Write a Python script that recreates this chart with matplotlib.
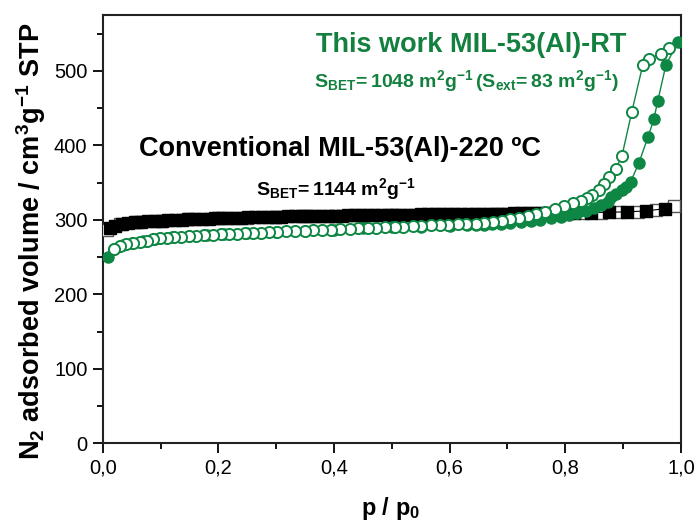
import matplotlib
matplotlib.use('Agg')
import matplotlib.pyplot as plt
from matplotlib import font_manager as fm
from matplotlib.ticker import MultipleLocator, FuncFormatter


def pick_font(names):
    for n in names:
        try:
            fm.findfont(fm.FontProperties(family=n), fallback_to_default=False)
            return n
        except ValueError:
            pass
    return 'DejaVu Sans'


SANS = pick_font(['Liberation Sans', 'Arial', 'DejaVu Sans'])
NARROW = pick_font(['Liberation Sans Narrow', 'Arial Narrow', SANS])

plt.rcParams['font.family'] = [SANS, 'DejaVu Sans']
plt.rcParams['mathtext.fontset'] = 'custom'
plt.rcParams['mathtext.rm'] = SANS
plt.rcParams['mathtext.bf'] = SANS + ':bold'
plt.rcParams['mathtext.sf'] = NARROW + ':bold'
plt.rcParams['mathtext.it'] = SANS + ':italic'

GREEN = '#0f8744'
GREEN_TXT = '#13803f'

# MIL-53(Al)-RT, adsorption branch (filled circles)
rt_ads_p = [0.009, 0.020, 0.035, 0.050, 0.070, 0.090, 0.120, 0.150, 0.180, 0.210,
            0.250, 0.300, 0.350, 0.400, 0.450, 0.500, 0.550, 0.600, 0.630, 0.645,
            0.659, 0.673, 0.688, 0.705, 0.723, 0.740, 0.757, 0.775, 0.792, 0.807,
            0.821, 0.835, 0.850, 0.862, 0.873, 0.879, 0.887, 0.898, 0.905, 0.913,
            0.927, 0.943, 0.953, 0.960, 0.974, 0.995]
rt_ads_v = [250, 261, 266, 268.5, 271, 274.5, 276.5, 278, 279.5, 280.5,
            282, 284, 285.5, 287, 288.5, 290, 291, 292, 292.5, 292.5,
            293, 294, 295, 296, 297, 298.5, 300, 302, 304, 306,
            309, 312, 316, 320, 324, 331, 335, 340, 344, 351,
            376, 411, 435, 460, 508, 539]

# MIL-53(Al)-RT, desorption branch (open circles)
rt_des_p = [0.979, 0.965, 0.945, 0.934, 0.915, 0.898, 0.887, 0.875, 0.867, 0.858,
            0.847, 0.838, 0.827, 0.813, 0.797, 0.782, 0.765, 0.750, 0.735, 0.720,
            0.705, 0.690, 0.675, 0.660, 0.645, 0.629, 0.614, 0.598, 0.583, 0.567,
            0.551, 0.536, 0.520, 0.505, 0.489, 0.473, 0.458, 0.442, 0.427, 0.411,
            0.395, 0.380, 0.364, 0.349, 0.333, 0.317, 0.302, 0.288, 0.274, 0.260,
            0.246, 0.232, 0.218, 0.204, 0.190, 0.176, 0.162, 0.149, 0.136, 0.123,
            0.111, 0.099, 0.087, 0.076, 0.064, 0.052, 0.041, 0.030, 0.019]
rt_des_v = [531, 523, 516, 508, 445, 386, 368, 357, 348, 340,
            333, 329, 325, 322, 318, 314, 311, 308, 305, 303,
            301, 299, 297.5, 296, 295, 294.5, 294, 293.5, 293, 292.5,
            292, 291.5, 291, 290.5, 290, 289.5, 289, 288.5, 288, 287.5,
            287, 286.5, 286, 285.5, 285, 284.5, 284, 283.5, 283, 282.5,
            282, 281.5, 281, 280.5, 280, 279, 278.5, 278, 277, 276.5,
            276, 275, 274, 272, 270.5, 269, 267, 265, 261]

# Conventional MIL-53(Al)-220 C, adsorption (filled squares)
cv_ads_p = [0.012, 0.022, 0.033, 0.044, 0.056, 0.067, 0.079, 0.090, 0.102, 0.113,
            0.125, 0.137, 0.148, 0.160, 0.171, 0.183, 0.194, 0.206, 0.217, 0.229,
            0.240, 0.252, 0.263, 0.275, 0.286, 0.298, 0.309, 0.321, 0.332, 0.344,
            0.355, 0.367, 0.378, 0.390, 0.401, 0.413, 0.424, 0.436, 0.447, 0.459,
            0.470, 0.482, 0.493, 0.505, 0.516, 0.528, 0.539, 0.551, 0.562, 0.574,
            0.585, 0.597, 0.608, 0.620, 0.631, 0.643, 0.654, 0.666, 0.677, 0.689,
            0.700, 0.712, 0.723, 0.735, 0.746, 0.758, 0.769, 0.781, 0.792, 0.804,
            0.815, 0.845, 0.876, 0.907, 0.940, 0.972]
cv_ads_v = [289, 292, 294, 295.5, 296.5, 297.5, 298, 298.5, 299, 299.5,
            300, 300.3, 300.6, 301, 301.3, 301.6, 302, 302.2, 302.5, 302.8,
            303, 303.2, 303.5, 303.7, 304, 304.1, 304.3, 304.5, 304.7, 304.9,
            305, 305.2, 305.3, 305.5, 305.6, 305.8, 305.9, 306, 306.1, 306.3,
            306.4, 306.5, 306.6, 306.7, 306.8, 307, 307.1, 307.2, 307.3, 307.4,
            307.5, 307.6, 307.7, 307.8, 307.9, 308, 308.1, 308.2, 308.3, 308.4,
            308.5, 308.6, 308.7, 308.8, 308.9, 309, 309.1, 309.2, 309.3, 309.4,
            309.5, 309.8, 310.2, 310.8, 312, 315]

# Conventional MIL-53(Al)-220 C, desorption (open squares)
cv_des_p = [0.988, 0.956, 0.925, 0.892, 0.861, 0.832, 0.800, 0.760, 0.720, 0.683,
            0.640, 0.593, 0.550, 0.500, 0.450, 0.400, 0.350, 0.300, 0.250, 0.200,
            0.150, 0.100, 0.060, 0.030, 0.007]
cv_des_v = [319, 313, 311, 310, 309.5, 309, 308.5, 308, 307.5, 307.5,
            307, 306.5, 306, 306, 305.5, 305, 304.5, 304, 303, 302,
            300.5, 299, 297, 294, 286]

fig = plt.figure(figsize=(6.99, 5.25), dpi=100)
ax = fig.add_axes([0.1469, 0.1556, 0.8273, 0.8158])

# conventional sample
ax.plot(cv_des_p, cv_des_v, '-', color='black', lw=0.8, zorder=2)
ax.plot(cv_des_p, cv_des_v, 's', ms=8, mfc='white', mec='#555555', mew=1.0, zorder=3)
ax.plot(cv_ads_p, cv_ads_v, 's-', color='black', ms=8, mec='black', lw=0.8, zorder=4)

# room-temperature sample
ax.plot(rt_ads_p, rt_ads_v, 'o-', color=GREEN, ms=8, mec=GREEN, lw=1.0, zorder=5)
ax.plot(rt_des_p, rt_des_v, 'o-', color=GREEN, ms=8, mfc='white', mec=GREEN,
        mew=1.4, lw=1.0, zorder=6)

ax.set_xlim(0, 1.0)
ax.set_ylim(0, 575)
ax.xaxis.set_major_locator(MultipleLocator(0.2))
ax.xaxis.set_minor_locator(MultipleLocator(0.1))
ax.yaxis.set_major_locator(MultipleLocator(100))
ax.yaxis.set_minor_locator(MultipleLocator(50))
ax.xaxis.set_major_formatter(FuncFormatter(lambda v, _: f'{v:.1f}'.replace('.', ',')))
ax.yaxis.set_major_formatter(FuncFormatter(lambda v, _: f'{v:.0f}'))
ax.tick_params(which='both', direction='out', top=False, right=False, width=1.3)
ax.tick_params(which='major', length=7, labelsize=14.5, pad=4)
ax.tick_params(which='minor', length=4)
for lab in ax.get_xticklabels() + ax.get_yticklabels():
    lab.set_family([NARROW, SANS])
for sp in ax.spines.values():
    sp.set_linewidth(1.5)
    sp.set_color('#222222')

fig.text(0.559, 0.019, r'$\mathbf{p\ /\ p_0}$', fontsize=17, ha='center', va='baseline')
fig.text(0.044, 0.54, r'$\mathbf{N_2\ adsorbed\ volume\ /\ cm^3g^{-1}\ STP}$',
         fontsize=19.5, rotation=90, ha='center', va='center')

fig.text(0.674, 1 - 52 / 525, 'This work MIL-53(Al)-RT', color=GREEN_TXT,
         fontsize=19.5, fontweight='bold', ha='center', va='baseline')
fig.text(0.667, 1 - 87 / 525,
         r'$\mathsf{S_{BET}\!=1048\ m^2g^{-1}\,(S_{ext}\!=83\ m^2g^{-1})}$',
         color=GREEN_TXT, fontsize=14, ha='center', va='baseline')
fig.text(0.481, 1 - 195 / 525, r'$\mathsf{S_{BET}\!=1144\ m^2g^{-1}}$',
         color='black', fontsize=14, ha='center', va='baseline')
fig.text(0.487, 1 - 156 / 525, 'Conventional MIL-53(Al)-220 ºC', color='black',
         fontsize=19.5, fontweight='bold', ha='center', va='baseline')

fig.savefig('out.png', dpi=100)
